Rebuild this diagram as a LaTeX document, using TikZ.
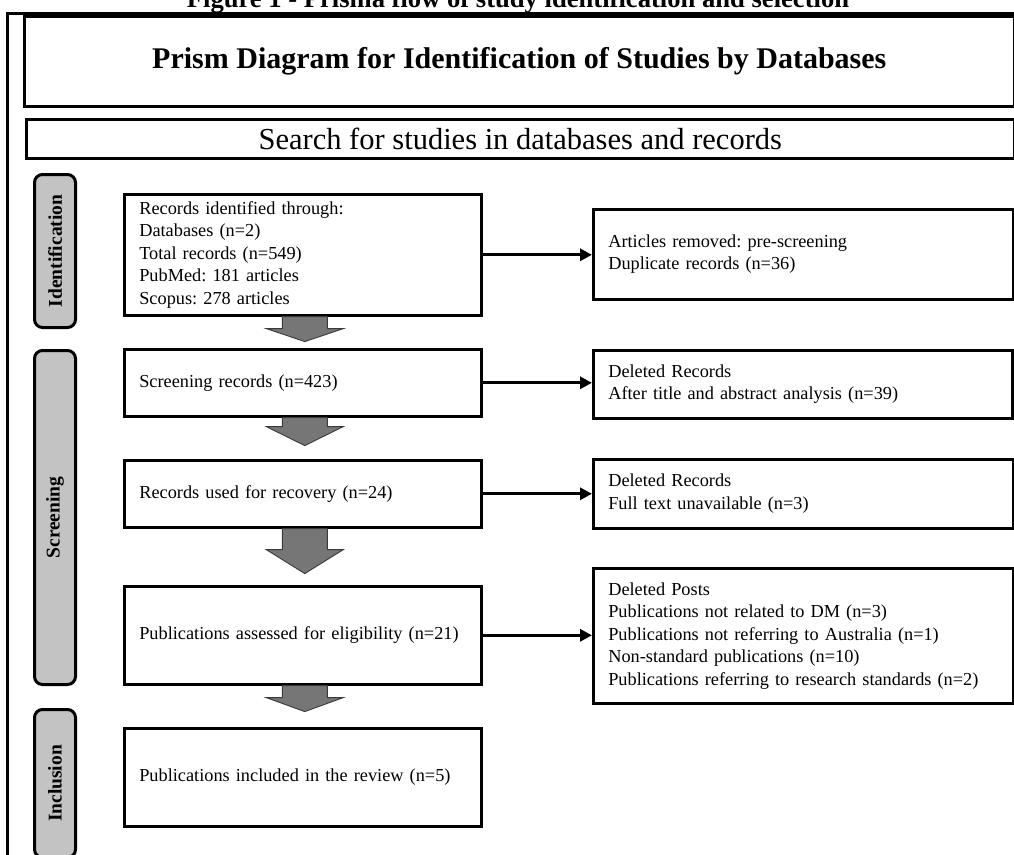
\documentclass[tikz,border=0pt]{standalone}
\usepackage{fontspec}
\setmainfont{Liberation Serif}
\frenchspacing
\usetikzlibrary{arrows.meta,calc}
\definecolor{stagegray}{HTML}{C3C3C3}
\definecolor{arrowgray}{HTML}{767676}
\definecolor{arrowline}{HTML}{3A3A3A}
\begin{document}
\begin{tikzpicture}[x=1pt,y=-1pt,
  frameline/.style={line width=3pt,line cap=rect},
  bigbox/.style={draw=black,line width=2.6pt,anchor=north west,inner sep=0pt,align=center},
  flowbox/.style={draw=black,line width=2.6pt,fill=white,anchor=north west,inner xsep=15pt,inner ysep=0pt,align=left,font=\fontsize{18.3}{22.5}\selectfont},
  stagebox/.style={draw=black,line width=3pt,fill=stagegray,rounded corners=8pt,anchor=north west,minimum width=41pt,inner sep=0pt},
  stagetext/.style={rotate=90,font=\bfseries\fontsize{19.5}{22}\selectfont,inner sep=0pt},
  sidearrow/.style={line width=3pt,-{Triangle[length=12pt,width=12pt]}},
  downarrow/.style={fill=arrowgray,draw=arrowline,line width=0.9pt,line join=miter}
]
\useasboundingbox (0,0) rectangle (1014,854);

% caption (cut by the top edge)
\node[anchor=base,inner sep=0pt,font=\bfseries\fontsize{26.6}{30}\selectfont] (caption) at (518,7) {Figure 1 - Prisma flow of study identification and selection};

% outer frame
\draw[frameline] (7.5,880) -- (7.5,13) -- (1030,13);

% header boxes
\node[bigbox,minimum width=990pt,minimum height=90pt,font=\bfseries\fontsize{30}{34}\selectfont] (header) at (23,15) {Prism Diagram for Identification of Studies by Databases};
\node[bigbox,minimum width=988pt,minimum height=39pt,font=\fontsize{30.5}{34}\selectfont] (search) at (25,118) {Search for studies in databases and records};

% stage labels
\node[stagebox,minimum height=153pt] (sid) at (33,173) {};
\node[stagetext] (sidt) at (sid.center) {Identification};
\node[stagebox,minimum height=334pt] (ssc) at (33,349) {};
\node[stagetext] (ssct) at (ssc.center) {Screening};
\node[stagebox,minimum height=148pt] (sin) at (33,708) {};
\node[stagetext] (sint) at (sin.center) {Inclusion};

% left flow boxes
\node[flowbox,text width=327pt,minimum height=121pt] (l1) at (123,193) {Records identified through:\\Databases (n=2)\\Total records (n=549)\\PubMed: 181 articles\\Scopus: 278 articles};
\node[flowbox,text width=327pt,minimum height=67pt] (l2) at (123,348) {Screening records (n=423)};
\node[flowbox,text width=327pt,minimum height=67pt] (l3) at (123,459) {Records used for recovery (n=24)};
\node[flowbox,text width=327pt,minimum height=98pt] (l4) at (123,585) {Publications assessed for eligibility (n=21)};
\node[flowbox,text width=327pt,minimum height=98pt] (l5) at (123,727) {Publications included in the review (n=5)};

% right flow boxes
\node[flowbox,text width=390pt,minimum height=90pt] (r1) at (592,208) {Articles removed: pre-screening\\Duplicate records (n=36)};
\node[flowbox,text width=389pt,minimum height=68pt] (r2) at (592,349) {Deleted Records\\After title and abstract analysis (n=39)};
\node[flowbox,text width=390pt,minimum height=69pt] (r3) at (592,458) {Deleted Records\\Full text unavailable (n=3)};
\node[flowbox,text width=390pt,minimum height=135pt] (r4) at (592,567) {Deleted Posts\\Publications not related to DM (n=3)\\Publications not referring to Australia (n=1)\\Non-standard publications (n=10)\\Publications referring to research standards (n=2)};

% side arrows
\draw[sidearrow] (l1.east) -- (l1.east -| r1.west);
\draw[sidearrow] (l2.east) -- (l2.east -| r2.west);
\draw[sidearrow] (l3.east) -- (l3.east -| r3.west);
\draw[sidearrow] (l4.east) -- (l4.east -| r4.west);

% block down arrows: stem half-width 22.5, head half-width 38.5
\draw[downarrow] ([xshift=-20.5pt]l1.south) -- ++(0,12) -- ++(-16,0) -- ++(38.5,13) -- ++(38.5,-13) -- ++(-16,0) -- ++(0,-12) -- cycle;
\draw[downarrow] ([xshift=-20.5pt]l2.south) -- ++(0,9) -- ++(-16,0) -- ++(38.5,19) -- ++(38.5,-19) -- ++(-16,0) -- ++(0,-9) -- cycle;
\draw[downarrow] ([xshift=-20.5pt]l3.south) -- ++(0,21) -- ++(-16,0) -- ++(38.5,24) -- ++(38.5,-24) -- ++(-16,0) -- ++(0,-21) -- cycle;
\draw[downarrow] ([xshift=-20.5pt]l4.south) -- ++(0,12) -- ++(-16,0) -- ++(38.5,14) -- ++(38.5,-14) -- ++(-16,0) -- ++(0,-12) -- cycle;
\end{tikzpicture}
\end{document}
